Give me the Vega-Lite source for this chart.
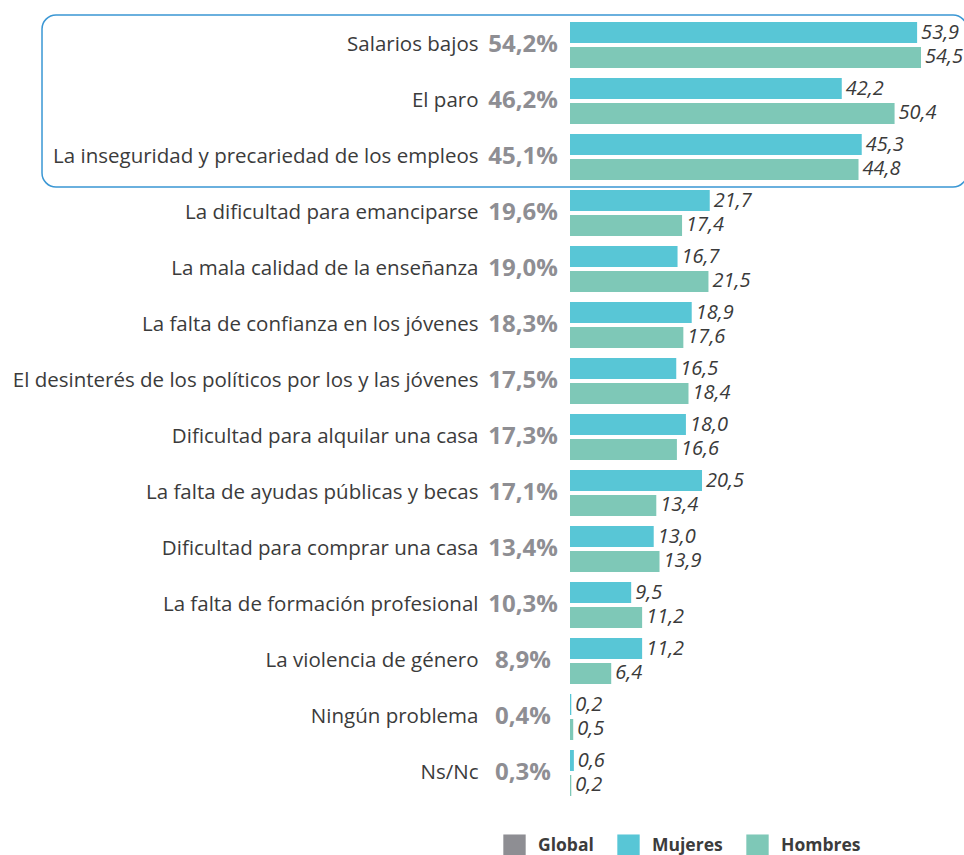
{
  "$schema": "https://vega.github.io/schema/vega-lite/v6.json",
  "width": 394,
  "height": 784,
  "autosize": "none",
  "padding": {"left": 570, "top": 17, "right": 0, "bottom": 54},
  "config": {
    "view": {"stroke": null},
    "locale": {"number": {"decimal": ",", "thousands": ".", "grouping": [3], "currency": ["", "%"]}},
    "font": "Open Sans"
  },
  "datasets": {
    "bars": [
      {"problema": "Salarios bajos", "sexo": "Mujeres", "valor": 53.9},
      {"problema": "Salarios bajos", "sexo": "Hombres", "valor": 54.5},
      {"problema": "El paro", "sexo": "Mujeres", "valor": 42.2},
      {"problema": "El paro", "sexo": "Hombres", "valor": 50.4},
      {"problema": "La inseguridad y precariedad de los empleos", "sexo": "Mujeres", "valor": 45.3},
      {"problema": "La inseguridad y precariedad de los empleos", "sexo": "Hombres", "valor": 44.8},
      {"problema": "La dificultad para emanciparse", "sexo": "Mujeres", "valor": 21.7},
      {"problema": "La dificultad para emanciparse", "sexo": "Hombres", "valor": 17.4},
      {"problema": "La mala calidad de la enseñanza", "sexo": "Mujeres", "valor": 16.7},
      {"problema": "La mala calidad de la enseñanza", "sexo": "Hombres", "valor": 21.5},
      {"problema": "La falta de confianza en los jóvenes", "sexo": "Mujeres", "valor": 18.9},
      {"problema": "La falta de confianza en los jóvenes", "sexo": "Hombres", "valor": 17.6},
      {"problema": "El desinterés de los políticos por los y las jóvenes", "sexo": "Mujeres", "valor": 16.5},
      {"problema": "El desinterés de los políticos por los y las jóvenes", "sexo": "Hombres", "valor": 18.4},
      {"problema": "Dificultad para alquilar una casa", "sexo": "Mujeres", "valor": 18.0},
      {"problema": "Dificultad para alquilar una casa", "sexo": "Hombres", "valor": 16.6},
      {"problema": "La falta de ayudas públicas y becas", "sexo": "Mujeres", "valor": 20.5},
      {"problema": "La falta de ayudas públicas y becas", "sexo": "Hombres", "valor": 13.4},
      {"problema": "Dificultad para comprar una casa", "sexo": "Mujeres", "valor": 13.0},
      {"problema": "Dificultad para comprar una casa", "sexo": "Hombres", "valor": 13.9},
      {"problema": "La falta de formación profesional", "sexo": "Mujeres", "valor": 9.5},
      {"problema": "La falta de formación profesional", "sexo": "Hombres", "valor": 11.2},
      {"problema": "La violencia de género", "sexo": "Mujeres", "valor": 11.2},
      {"problema": "La violencia de género", "sexo": "Hombres", "valor": 6.4},
      {"problema": "Ningún problema", "sexo": "Mujeres", "valor": 0.2},
      {"problema": "Ningún problema", "sexo": "Hombres", "valor": 0.5},
      {"problema": "Ns/Nc", "sexo": "Mujeres", "valor": 0.6},
      {"problema": "Ns/Nc", "sexo": "Hombres", "valor": 0.2}
    ],
    "global": [
      {"problema": "Salarios bajos", "global": 54.2},
      {"problema": "El paro", "global": 46.2},
      {"problema": "La inseguridad y precariedad de los empleos", "global": 45.1},
      {"problema": "La dificultad para emanciparse", "global": 19.6},
      {"problema": "La mala calidad de la enseñanza", "global": 19.0},
      {"problema": "La falta de confianza en los jóvenes", "global": 18.3},
      {"problema": "El desinterés de los políticos por los y las jóvenes", "global": 17.5},
      {"problema": "Dificultad para alquilar una casa", "global": 17.3},
      {"problema": "La falta de ayudas públicas y becas", "global": 17.1},
      {"problema": "Dificultad para comprar una casa", "global": 13.4},
      {"problema": "La falta de formación profesional", "global": 10.3},
      {"problema": "La violencia de género", "global": 8.9},
      {"problema": "Ningún problema", "global": 0.4},
      {"problema": "Ns/Nc", "global": 0.3}
    ],
    "destacado": [
      {"problema": "El paro"}
    ]
  },
  "encoding": {
    "y": {
      "field": "problema",
      "type": "nominal",
      "scale": {
        "domain": ["Salarios bajos", "El paro", "La inseguridad y precariedad de los empleos", "La dificultad para emanciparse", "La mala calidad de la enseñanza", "La falta de confianza en los jóvenes", "El desinterés de los políticos por los y las jóvenes", "Dificultad para alquilar una casa", "La falta de ayudas públicas y becas", "Dificultad para comprar una casa", "La falta de formación profesional", "La violencia de género", "Ningún problema", "Ns/Nc"],
        "paddingInner": 0.1786,
        "paddingOuter": 0.0893
      },
      "axis": {
        "title": null,
        "domain": false,
        "ticks": false,
        "labelPadding": 92,
        "labelFontSize": 20.5,
        "labelColor": "#3b3b3b",
        "labelFont": "Open Sans",
        "labelLimit": 600
      }
    }
  },
  "layer": [
    {
      "data": {"name": "bars"},
      "mark": {"type": "bar"},
      "encoding": {
        "x": {"field": "valor", "type": "quantitative", "scale": {"domain": [0, 61.18], "nice": false}, "axis": null},
        "yOffset": {"field": "sexo", "scale": {"domain": ["Mujeres", "Hombres"], "paddingInner": 0.16}},
        "color": {
          "field": "sexo",
          "type": "nominal",
          "scale": {"domain": ["Global", "Mujeres", "Hombres"], "range": ["#8e8e93", "#58c6d6", "#7ec8b7"]},
          "legend": {
            "title": null,
            "orient": "none",
            "legendX": -67,
            "legendY": 817,
            "direction": "horizontal",
            "symbolType": "square",
            "symbolSize": 500,
            "symbolStrokeWidth": 0,
            "symbolOpacity": 1,
            "labelFontSize": 17.5,
            "labelFontWeight": "bold",
            "labelColor": "#3c3c3c",
            "labelFont": "Open Sans",
            "labelOffset": 12,
            "columnPadding": 23
          }
        }
      }
    },
    {
      "data": {"name": "bars"},
      "mark": {"type": "text", "align": "left", "baseline": "middle", "dx": 4, "fontSize": 20, "fontStyle": "italic", "color": "#3a3a3a"},
      "encoding": {
        "x": {"field": "valor", "type": "quantitative"},
        "yOffset": {"field": "sexo", "scale": {"domain": ["Mujeres", "Hombres"], "paddingInner": 0.16}},
        "text": {"field": "valor", "type": "quantitative", "format": ".1f"}
      }
    },
    {
      "data": {"name": "global"},
      "mark": {"type": "text", "align": "center", "baseline": "middle", "dx": -47, "fontSize": 24, "fontWeight": "bold"},
      "encoding": {
        "x": {"datum": 0},
        "color": {"datum": "Global"},
        "text": {"field": "global", "type": "quantitative", "format": "$.1f"}
      }
    },
    {
      "data": {"name": "destacado"},
      "mark": {"type": "rect", "filled": false, "stroke": "#3a97d4", "strokeWidth": 1.5, "cornerRadius": 14, "clip": false, "width": 925, "height": 172},
      "encoding": {
        "x": {"datum": -10.17}
      }
    }
  ]
}
